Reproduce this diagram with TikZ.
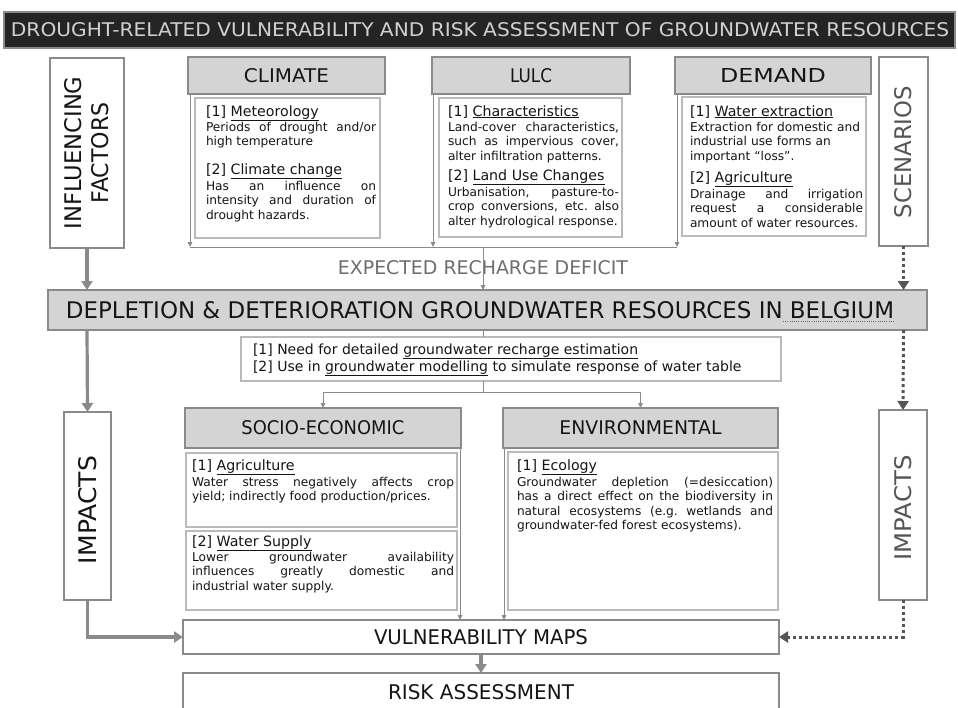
\documentclass[tikz,border=0pt]{standalone}
\usepackage{fontspec}
\setmainfont{DejaVu Sans}
\usetikzlibrary{arrows.meta}

\definecolor{framegray}{HTML}{8A8A8A}
\definecolor{softgray}{HTML}{BABABA}
\definecolor{headfill}{HTML}{D4D4D4}
\definecolor{barfill}{HTML}{242424}
\definecolor{bartext}{HTML}{D0D0D0}
\definecolor{dotgray}{HTML}{555555}
\definecolor{labelgray}{HTML}{6E6E6E}
\definecolor{inkblack}{HTML}{151515}

% scale a one-line caption to a given width and cap height
\newcommand{\fitbox}[3]{\resizebox{#1}{#2}{#3}}

\hyphenpenalty=10000
\exhyphenpenalty=10000

\tikzset{
  every node/.style={inner sep=0pt, outer sep=0pt, text=inkblack},
  framebox/.style={draw=framegray, line width=2pt, fill=white, anchor=north west},
  headbox/.style={draw=framegray, line width=2pt, fill=headfill, anchor=north west},
  notebox/.style={draw=softgray, line width=2.4pt, fill=white, anchor=north west},
  subhead/.style={anchor=base west, font=\fontsize{14.2}{16}\selectfont},
  bodytext/.style={anchor=base west, align=justify, font=\fontsize{12.2}{14.5}\selectfont},
  needline/.style={anchor=base west, font=\fontsize{14}{17}\selectfont},
  feed/.style={draw=framegray, line width=0.9pt, -{Triangle[length=5pt,width=4.5pt]}},
  feedline/.style={draw=framegray, line width=0.9pt},
  mainflow/.style={draw=framegray, line width=3.2pt, -{Triangle[length=9pt,width=11pt]}},
  scenflow/.style={draw=dotgray, line width=3pt, dash pattern=on 3pt off 3pt, -{Triangle[length=9pt,width=11pt]}},
}

\begin{document}
\begin{tikzpicture}[x=1pt,y=-1pt]
\useasboundingbox (0,0) rectangle (958,707);
\fill[white] (0,0) rectangle (958,707);

% ---------- title bar ----------
\node[draw=framegray, line width=2pt, fill=barfill, anchor=north west,
      minimum width=951pt, minimum height=36pt] (title) at (4,12) {};
\node[text=bartext] (titleText) at (480,30)
  {\fitbox{938pt}{14pt}{DROUGHT-RELATED VULNERABILITY AND RISK ASSESSMENT OF GROUNDWATER RESOURCES}};

% ---------- side columns ----------
\node[framebox, minimum width=74pt, minimum height=190pt] (inf) at (50,58) {};
\node[rotate=90] (infA) at (73,153) {\fitbox{153pt}{17pt}{INFLUENCING}};
\node[rotate=90] (infB) at (100,153) {\fitbox{101pt}{17pt}{FACTORS}};

\node[framebox, minimum width=49pt, minimum height=189pt] (scen) at (879,57) {};
\node[rotate=90, text=dotgray] (scenText) at (903,152) {\fitbox{132pt}{17pt}{SCENARIOS}};

% ---------- influencing factors ----------
\node[headbox, minimum width=197pt, minimum height=37pt] (climH) at (188,57) {\fitbox{85pt}{14pt}{CLIMATE}};
\node[notebox, minimum width=185pt, minimum height=140pt] (climB) at (195,98) {};
\node[subhead] (climS1) at (206,116) {[1] \underline{Meteorology}};
\node[bodytext, text width=170pt] (climT1) at (206,131) {Periods of drought and/or\linebreak high temperature};
\node[subhead] (climS2) at (206,174) {[2] \underline{Climate change}};
\node[bodytext, text width=170pt] (climT2) at (206,190) {Has an influence on\linebreak intensity and duration of\linebreak drought hazards.};

\node[headbox, minimum width=198pt, minimum height=37pt] (lulcH) at (432,57) {\fitbox{42pt}{14pt}{LULC}};
\node[notebox, minimum width=183pt, minimum height=139pt] (lulcB) at (439,98) {};
\node[subhead] (lulcS1) at (448,116) {[1] \underline{Characteristics}};
\node[bodytext, text width=171pt] (lulcT1) at (448,131) {Land-cover characteristics,\linebreak such as impervious cover,\linebreak alter infiltration patterns.};
\node[subhead] (lulcS2) at (448,180) {[2] \underline{Land Use Changes}};
\node[bodytext, text width=171pt] (lulcT2) at (448,196) {Urbanisation, pasture-to-\linebreak crop conversions, etc.\ also\linebreak alter hydrological response.};

\node[headbox, minimum width=196pt, minimum height=37pt] (demH) at (675,57) {\fitbox{106pt}{14pt}{DEMAND}};
\node[notebox, minimum width=184pt, minimum height=139pt] (demB) at (682,97) {};
\node[subhead] (demS1) at (690,116) {[1] \underline{Water extraction}};
\node[bodytext, align=left, text width=173pt] (demT1) at (690,131) {Extraction for domestic and\\ industrial use forms an\\ important “loss”.};
\node[subhead] (demS2) at (690,182) {[2] \underline{Agriculture}};
\node[bodytext, text width=173pt] (demT2) at (690,198) {Drainage and irrigation\linebreak request a considerable\linebreak amount of water resources.};

% ---------- recharge deficit and central box ----------
\coordinate (bus) at (483,247);
\node[text=labelgray] (deficit) at (483,268) {\fitbox{290pt}{14pt}{EXPECTED RECHARGE DEFICIT}};

\node[headbox, minimum width=879pt, minimum height=40pt] (depl) at (48,290) {};
\node (deplText) at (480,310) {\fitbox{828pt}{17pt}{DEPLETION \& DETERIORATION GROUNDWATER RESOURCES IN BELGIUM}};
\draw[draw=labelgray, line width=0.8pt, dash pattern=on 1pt off 1.2pt]
  ([xshift=-111pt,yshift=-3pt]deplText.south east) -- ([yshift=-3pt]deplText.south east);

\node[notebox, minimum width=540pt, minimum height=44pt] (need) at (241,337) {};
\node[needline] (needT1) at (253,354) {[1] Need for detailed \underline{groundwater recharge estimation}};
\node[needline] (needT2) at (253,371) {[2] Use in \underline{groundwater modelling} to simulate response of water table};

% ---------- impacts ----------
\node[headbox, minimum width=276pt, minimum height=40pt] (socH) at (185,408) {\fitbox{163pt}{14pt}{SOCIO-ECONOMIC}};
\node[notebox, minimum width=271pt, minimum height=74pt] (socB1) at (186,453) {};
\node[notebox, minimum width=271pt, minimum height=79pt] (socB2) at (186,531) {};
\node[subhead] (socS1) at (192,470) {[1] \underline{Agriculture}};
\node[bodytext, text width=262pt] (socT1) at (192,486) {Water stress negatively affects crop\linebreak yield; indirectly food production/prices.};
\node[subhead] (socS2) at (192,546) {[2] \underline{Water Supply}};
\node[bodytext, text width=262pt] (socT2) at (192,561) {Lower groundwater availability\linebreak influences greatly domestic and\linebreak industrial water supply.};

\node[headbox, minimum width=275pt, minimum height=40pt] (envH) at (503,408) {\fitbox{162pt}{14pt}{ENVIRONMENTAL}};
\node[notebox, minimum width=270pt, minimum height=158pt] (envB) at (508,452) {};
\node[subhead] (envS1) at (517,470) {[1] \underline{Ecology}};
\node[bodytext, text width=256pt] (envT1) at (517,486) {Groundwater depletion (=desiccation)\linebreak has a direct effect on the biodiversity in\linebreak natural ecosystems (e.g.\ wetlands and\linebreak groundwater-fed forest ecosystems).};

\node[framebox, minimum width=47pt, minimum height=188pt] (impL) at (64,412) {};
\node[rotate=90] (impLText) at (87.5,510) {\fitbox{108pt}{18pt}{IMPACTS}};
\node[framebox, minimum width=48pt, minimum height=190pt] (impR) at (879,410) {};
\node[rotate=90, text=dotgray] (impRText) at (903,508) {\fitbox{105pt}{17pt}{IMPACTS}};

% ---------- outputs ----------
\node[framebox, minimum width=596pt, minimum height=34pt] (vuln) at (183,620) {\fitbox{214pt}{15pt}{VULNERABILITY MAPS}};
\node[framebox, minimum width=596pt, minimum height=38pt] (risk) at (183,673) {\fitbox{186pt}{15pt}{RISK ASSESSMENT}};

% ---------- connectors: factors to recharge deficit ----------
\draw[feed] ([xshift=2pt]climH.south west) -- ([xshift=2pt]climH.south west |- bus);
\draw[feed] ([xshift=1pt]lulcH.south west) -- ([xshift=1pt]lulcH.south west |- bus);
\draw[feed] ([xshift=2pt]demH.south west) -- ([xshift=2pt]demH.south west |- bus);
\draw[feedline] ([xshift=2pt]climH.south west |- bus) -- ([xshift=2pt]demH.south west |- bus);
\draw[feed] (bus) -- (bus |- depl.north);

% ---------- connectors: central box to impacts ----------
\draw[feedline] (bus |- depl.south) -- (bus |- need.north);
\draw[feed] (bus |- need.south) -- ++(0,11) -| (socH.north);
\draw[feed] (bus |- need.south) -- ++(0,11) -| (envH.north);
\draw[feed] ([xshift=-1pt]socH.south east) -- ([xshift=-1pt]socH.south east |- vuln.north);
\draw[feed] ([xshift=1pt]envH.south west) -- ([xshift=1pt]envH.south west |- vuln.north);

% ---------- main flow, left column ----------
\draw[mainflow] (inf.south) -- (inf.south |- depl.north);
\draw[mainflow] (inf.south |- depl.south) -- (impL.north);
\draw[mainflow] (impL.south) |- (vuln.west);
\draw[mainflow] (vuln.south) -- (risk.north);

% ---------- scenario flow, right column ----------
\draw[scenflow] (scen.south) -- (scen.south |- depl.north);
\draw[scenflow] (scen.south |- depl.south) -- (impR.north);
\draw[scenflow] (impR.south) |- (vuln.east);
\end{tikzpicture}
\end{document}
